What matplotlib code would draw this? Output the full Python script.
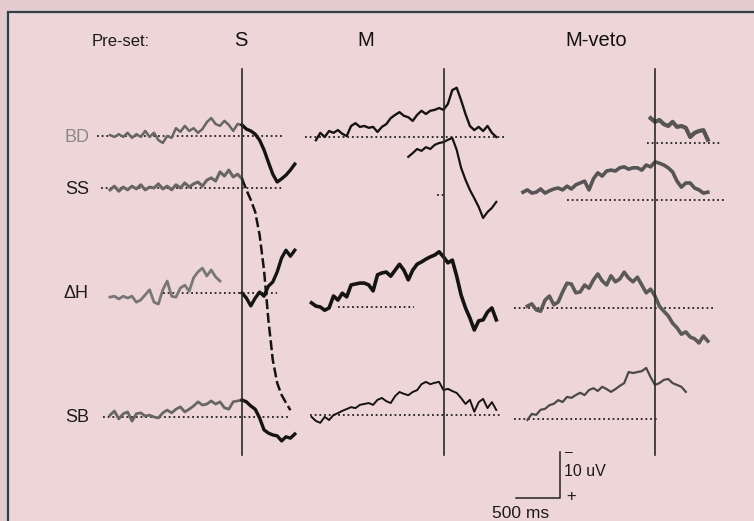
import matplotlib.pyplot as plt
from matplotlib.patches import Rectangle

# sampled waveforms: amplitude in uV (negative = up), one sample every 50 ms
DT = 50  # ms

# ---- Pre-set S ----
s_bd_t0 = -1500
s_bd = [-0.2, 0.2, -0.4, 0.2, -0.7, 0.4, -0.4, 0.2, -1.1, 0.2, -0.7, 0.9, 1.5, 0, 0.4, -1.7,
        -0.9, -2.2, -1.1, -1.7, -0.7, -1.5, -3.0, -3.9, -2.6, -2.2, -3.3, -2.4, -1.1, -2.6, -2.4,
        -1.5, -1.1, -0.4, 0.9, 3.0, 5.7, 8.3, 10.0, 9.3, 8.5, 7.4, 6.1]
s_ss_t0 = -1500
s_ss = [0.4, -0.4, 0.7, -0.2, 0.4, -0.4, 0.2, -0.7, 0.4, -0.2, 0, -0.9, 0.2, -0.4, 0.4, -0.7,
        0, -1.1, -0.2, -0.9, -1.3, -0.4, -1.7, -2.2, -1.5, -3.5, -2.6, -3.9, -2.4, -3.0, -2.0,
        0.4, 2.6, 5.2, 10.2, 17.8, 28.7, 37.4, 42.4, 45.0, 46.7, 48.3]
s_dh_pre_t0 = -1500
s_dh_pre = [0.9, 0.7, 1.3, 0.7, 1.1, 0.7, 2.0, 1.5, 0.4, -0.7, 2.0, 2.4, -0.7, -2.6, 0.7, 0.9,
            -1.1, -1.7, -0.4, -3.3, -4.6, -5.4, -3.7, -5.0, -3.5, -2.6]
s_dh_post_t0 = 0
s_dh_post = [0, 1.1, 2.8, 1.1, -0.2, 0.7, -1.5, -2.4, -4.6, -7.6, -9.3, -8.0, -9.3]
s_sb_t0 = -1500
s_sb = [-0.4, -1.3, 0.4, -0.7, -1.1, 0.9, -0.7, -0.9, -0.2, -0.4, 0, 0.2, -0.9, -1.5, -0.9, -1.7,
        -2.2, -1.1, -1.7, -2.4, -3.3, -2.6, -2.8, -3.5, -2.8, -3.3, -2.0, -1.7, -3.3, -3.5, -3.7,
        -3.3, -2.4, -1.7, 0.2, 2.8, 3.5, 3.9, 4.1, 5.2, 4.3, 4.6, 3.7]

# ---- Pre-set M ----
m_bd_t0 = -1450
m_bd = [0.7, -0.9, 0, -1.3, -0.9, -1.5, -0.7, -0.2, -2.4, -3.0, -2.2, -2.4, -2.0, -2.2, -1.1,
        -2.2, -2.8, -4.1, -4.8, -5.4, -4.6, -4.3, -3.5, -4.8, -5.7, -5.0, -5.7, -5.9, -6.3, -5.9,
        -7.2, -10.2, -10.7, -8.0, -5.0, -2.4, -1.5, -2.2, -1.3, -2.4, -0.9, 0]
m_ss_t0 = -400
m_ss = [-8.3, -9.1, -10.0, -9.6, -10.4, -10.0, -10.9, -11.3, -11.5, -12.0, -12.4, -9.8, -5.9,
        -3.3, -1.1, 0.7, 2.6, 5.0, 3.7, 2.8, 1.5]
m_dh_t0 = -1500
m_dh = [-0.9, -0.2, 0, 0.7, 0.2, -2.4, -1.5, -3.0, -2.2, -4.8, -5.0, -5.2, -5.2, -4.8, -3.5,
        -7.0, -7.4, -7.6, -6.7, -8.0, -9.3, -8.0, -5.9, -8.0, -9.3, -9.8, -10.4, -10.9, -11.3,
        -12.0, -10.9, -9.6, -10.2, -6.7, -2.6, 0.2, 2.4, 5.0, 3.0, 2.8, 1.1, 0.2, 2.8]
m_sb_t0 = -1500
m_sb = [0.4, 1.3, 1.7, 0.4, 1.1, 0, -0.4, -0.9, -1.3, -1.7, -1.5, -2.2, -2.4, -2.6, -2.2, -3.3,
        -3.7, -3.0, -2.6, -4.1, -5.0, -4.6, -4.3, -5.0, -5.4, -6.7, -7.2, -6.7, -7.0, -7.2, -5.4,
        -5.7, -5.2, -4.8, -3.7, -2.4, -3.3, -0.7, -2.8, -3.5, -1.5, -2.8, -1.1]

# ---- Pre-set M-veto ----
v_bd_t0 = -50
v_bd = [-5.4, -4.6, -5.0, -4.1, -3.7, -4.6, -3.5, -3.7, -3.3, -1.3, -2.2, -2.6, -2.8, -0.7]
v_ss_t0 = -1500
v_ss = [-1.7, -2.2, -1.5, -1.7, -2.4, -1.5, -2.0, -2.4, -2.6, -2.2, -3.0, -2.4, -3.3, -3.7, -4.1,
        -2.2, -4.6, -5.9, -5.2, -6.3, -6.5, -6.3, -7.0, -7.2, -6.7, -7.0, -7.0, -6.5, -7.6, -7.2,
        -8.3, -8.0, -7.6, -7.0, -6.1, -4.1, -2.8, -3.7, -3.7, -2.6, -2.2, -1.5, -1.7]
v_dh_t0 = -1450
v_dh = [-0.4, -0.9, 0.4, 0.7, -1.7, -2.6, -0.7, -1.3, -3.5, -5.4, -5.2, -3.3, -3.5, -5.0, -4.3,
        -6.1, -7.4, -5.9, -5.0, -7.0, -5.7, -6.3, -7.8, -6.5, -5.7, -6.7, -5.0, -3.3, -4.1, -2.6,
        -0.4, 0.7, 1.7, 3.3, 4.3, 5.7, 5.2, 6.3, 6.7, 7.6, 6.1, 7.2]
v_sb_t0 = -1450
v_sb = [0.2, -1.1, -0.9, -2.0, -2.2, -3.0, -3.3, -4.1, -3.7, -4.8, -4.6, -5.2, -5.7, -5.2, -6.3,
        -6.7, -6.1, -7.0, -6.5, -5.9, -6.5, -7.2, -7.8, -10.2, -10.0, -10.2, -10.4, -11.1, -9.1,
        -7.4, -7.8, -8.5, -8.7, -7.8, -7.4, -7.0, -5.9]

# dotted baselines (ms, relative to the event)
s_base = {"BD": (-1650, 460), "SS": (-1600, 460), "ΔH": (-900, 400), "SB": (-1580, 520)}
m_base = {"BD": (-1570, 700), "SS": (-70, 30), "ΔH": (-1200, -340), "SB": (-1520, 650)}
v_base = {"BD": (-90, 760), "SS": (-1000, 785), "ΔH": (-1600, 670), "SB": (-1600, 20)}

row_names = ["BD", "SS", "ΔH", "SB"]
panel_titles = ["S", "M", "M-veto"]

# layout (pixels, y grows downward)
PX_PER_MS = 44 / 500
PX_PER_UV = 46 / 10
event_x = {"S": 242, "M": 443.5, "M-veto": 655}
row_y = {"S": [136, 188, 293, 417], "M": [137, 195, 307, 415], "M-veto": [143, 200, 308, 419]}

BG_OUT = "#e6cbce"
BG_IN = "#eed6d8"
BLACK = "#141414"
GRAY = "#666666"
FONT = "Liberation Sans"


def xy(panel, row, t0, vals):
    xs = [event_x[panel] + (t0 + i * DT) * PX_PER_MS for i in range(len(vals))]
    ys = [row_y[panel][row] + v * PX_PER_UV for v in vals]
    return xs, ys


def trace(panel, row, t0, vals, color, lw, split=None, color2=None, ls="-", ls2="-", lw2=None):
    xs, ys = xy(panel, row, t0, vals)
    if split is None:
        ax.plot(xs, ys, color=color, lw=lw, ls=ls, solid_joinstyle="round", zorder=3)
    else:
        k = int((0 - t0) / DT)  # index of the event sample
        ax.plot(xs[:k + 1], ys[:k + 1], color=color, lw=lw, ls=ls, solid_joinstyle="round", zorder=3)
        ax.plot(xs[k:], ys[k:], color=color2, lw=lw2 or lw, ls=ls2, solid_joinstyle="round", zorder=3)


def baseline(panel, row, t_range):
    x0 = event_x[panel] + t_range[0] * PX_PER_MS
    x1 = event_x[panel] + t_range[1] * PX_PER_MS
    y = row_y[panel][row]
    ax.plot([x0, x1], [y, y], color="#222222", lw=1.3, ls=(0, (1, 1.6)), zorder=2)


fig = plt.figure(figsize=(7.54, 5.21), dpi=100, facecolor=BG_OUT)
ax = fig.add_axes([0, 0, 1, 1])
ax.set_xlim(0, 754)
ax.set_ylim(521, 0)
ax.axis("off")

# frame
ax.add_patch(Rectangle((8, 12), 760, 520, facecolor=BG_IN, edgecolor="#2c424b", lw=1.6, zorder=0))

# header
ax.text(121, 41, "Pre-set:", ha="center", va="center", fontsize=12, family=FONT, color="#1a1a1a")
title_x = [241, 366, 596]
for name, tx in zip(panel_titles, title_x):
    ax.text(tx, 41, name, ha="center", va="center", fontsize=14.5, family=FONT, color="#111111")

# row labels
label_colors = ["#8a8a8a", "#1a1a1a", "#1a1a1a", "#1a1a1a"]
for i, (name, c) in enumerate(zip(row_names, label_colors)):
    ax.text(89, row_y["S"][i] + 1, name, ha="right", va="center", fontsize=13,
            family=FONT, color=c)

# event lines
for p in panel_titles:
    ax.plot([event_x[p], event_x[p]], [69, 455], color="#2a2a2a", lw=1.2, zorder=4)

# dotted baselines
for p, bases in zip(panel_titles, [s_base, m_base, v_base]):
    for i, name in enumerate(row_names):
        baseline(p, i, bases[name])

# S panel: grey before the event, black after
trace("S", 0, s_bd_t0, s_bd, GRAY, 1.8, split=True, color2=BLACK, lw2=2.4)
trace("S", 1, s_ss_t0, s_ss, GRAY, 2.2, split=True, color2=BLACK, lw2=1.8, ls2=(0, (4, 1.5)))
trace("S", 2, s_dh_pre_t0, s_dh_pre, "#777777", 2.0)
trace("S", 2, s_dh_post_t0, s_dh_post, BLACK, 2.4)
trace("S", 3, s_sb_t0, s_sb, GRAY, 2.0, split=True, color2=BLACK, lw2=2.4)

# M panel
trace("M", 0, m_bd_t0, m_bd, BLACK, 1.7)
trace("M", 1, m_ss_t0, m_ss, BLACK, 1.6)
trace("M", 2, m_dh_t0, m_dh, BLACK, 2.6)
trace("M", 3, m_sb_t0, m_sb, BLACK, 1.4)

# M-veto panel
trace("M-veto", 0, v_bd_t0, v_bd, "#555555", 3.0)
trace("M-veto", 1, v_ss_t0, v_ss, "#555555", 2.6)
trace("M-veto", 2, v_dh_t0, v_dh, "#5a5a5a", 2.6)
trace("M-veto", 3, v_sb_t0, v_sb, "#4a4a4a", 1.6)

# calibration bars: 500 ms and 10 uV
cx, cy = 560, 498
ax.plot([cx - 500 * PX_PER_MS, cx, cx], [cy, cy, cy - 10 * PX_PER_UV], color="#222222", lw=1.1)
ax.text(cx + 4, cy - 26, "10 uV", ha="left", va="center", fontsize=11.5, family=FONT, color="#1a1a1a")
ax.text(cx + 5, cy - 46, "–", ha="left", va="center", fontsize=10, family=FONT, color="#1a1a1a")
ax.text(cx + 6, cy - 1, "+", ha="left", va="center", fontsize=12, family=FONT, color="#1a1a1a")
ax.text(cx - 39, cy + 15, "500 ms", ha="center", va="center", fontsize=12.5, family=FONT, color="#1a1a1a")

plt.savefig("out.png", dpi=100, facecolor=BG_OUT)
